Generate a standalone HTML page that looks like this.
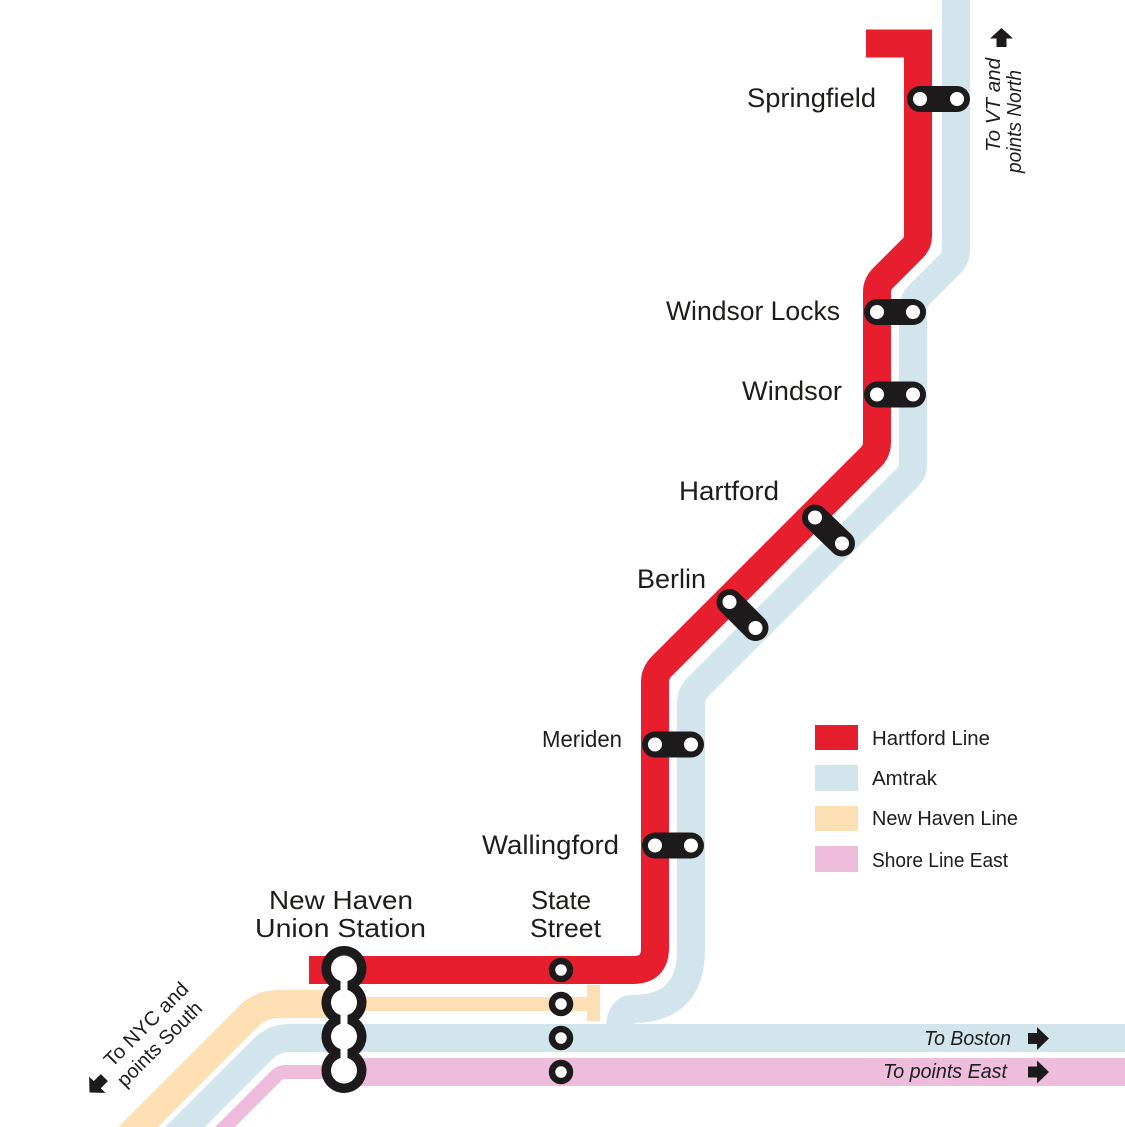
<!DOCTYPE html>
<html>
<head>
<meta charset="utf-8">
<style>
  html, body { margin: 0; padding: 0; background: #ffffff; }
  svg { display: block; }
  .lbl { font-family: "Liberation Sans", sans-serif; fill: #1d1d1b; }
  .it { font-family: "Liberation Sans", sans-serif; font-style: italic; fill: #1d1d1b; }
</style>
</head>
<body>
<svg width="1125" height="1127" viewBox="0 0 1125 1127" xmlns="http://www.w3.org/2000/svg">
  <rect x="0" y="0" width="1125" height="1127" fill="#ffffff"/>

  <!-- Amtrak (blue) -->
  <g fill="none" stroke="#d3e5ec" stroke-width="28" stroke-linecap="butt" stroke-linejoin="round">
    <path d="M 956 -5 V 250 Q 956 258 950 264 L 919 295 Q 913 301 913 310 V 464 Q 913 472 907 478 L 697 688 Q 691 694 691 703 V 950 Q 691 1009 632 1009 Q 620 1009 620 1030"/>
    <path d="M 1130 1038 H 290 Q 274 1038 263 1049 L 160 1152"/>
  </g>

  <!-- New Haven Line (orange) -->
  <g fill="none" stroke="#fddfb4" stroke-linecap="butt" stroke-linejoin="round">
    <path d="M 345 1004 H 279 Q 261 1004 249 1016 L 120 1145" stroke-width="28"/>
    <path d="M 340 1004 H 594" stroke-width="14"/>
  </g>
  <rect x="587" y="985" width="13" height="36" fill="#fddfb4"/>

  <!-- Shore Line East (pink) -->
  <g fill="none" stroke="#eebddb" stroke-linecap="butt" stroke-linejoin="round">
    <path d="M 345 1072 H 286 Q 280 1072 276 1076 L 215 1137" stroke-width="14"/>
    <path d="M 343 1072 H 1130" stroke-width="28"/>
  </g>

  <!-- Hartford Line (red) -->
  <path d="M 866 43.5 H 918 V 236 Q 918 243 913 248 L 883 278 Q 877 284 877 292 V 442 Q 877 451 871 457 L 662 666 Q 655 673 655 682 V 948 Q 655 970 633 970 H 309"
        fill="none" stroke="#e61e2e" stroke-width="28" stroke-linecap="butt" stroke-linejoin="miter"/>

  <!-- Pill stations -->
  <g stroke="#1c1a1b" stroke-width="26" stroke-linecap="round">
    <line x1="920" y1="99" x2="957" y2="99"/>
    <line x1="877" y1="312" x2="913" y2="312"/>
    <line x1="877" y1="394.5" x2="913" y2="394.5"/>
    <line x1="815" y1="517.5" x2="842" y2="543.5"/>
    <line x1="729.5" y1="602" x2="755.5" y2="628"/>
    <line x1="655" y1="744.5" x2="691" y2="744.5"/>
    <line x1="655" y1="845.5" x2="691" y2="845.5"/>
  </g>
  <g fill="#ffffff">
    <circle cx="920" cy="99" r="7"/><circle cx="957" cy="99" r="7"/>
    <circle cx="877" cy="312" r="7"/><circle cx="913" cy="312" r="7"/>
    <circle cx="877" cy="394.5" r="7"/><circle cx="913" cy="394.5" r="7"/>
    <circle cx="815" cy="517.5" r="7"/><circle cx="842" cy="543.5" r="7"/>
    <circle cx="729.5" cy="602" r="7"/><circle cx="755.5" cy="628" r="7"/>
    <circle cx="655" cy="744.5" r="7"/><circle cx="691" cy="744.5" r="7"/>
    <circle cx="655" cy="845.5" r="7"/><circle cx="691" cy="845.5" r="7"/>
  </g>

  <!-- New Haven Union Station -->
  <g fill="#1c1a1b">
    <circle cx="344" cy="968.5" r="22.5"/>
    <circle cx="344" cy="1002.5" r="22.5"/>
    <circle cx="344" cy="1036.5" r="22.5"/>
    <circle cx="344" cy="1070.5" r="22.5"/>
  </g>
  <g fill="#ffffff">
    <circle cx="344" cy="968.5" r="13"/>
    <circle cx="344" cy="1002.5" r="13"/>
    <circle cx="344" cy="1036.5" r="13"/>
    <circle cx="344" cy="1070.5" r="13"/>
    <rect x="340.5" y="968.5" width="7" height="102"/>
  </g>

  <!-- State Street -->
  <g fill="#ffffff" stroke="#1c1a1b" stroke-width="6.5">
    <circle cx="561" cy="970" r="9"/>
    <circle cx="561" cy="1004" r="9"/>
    <circle cx="561" cy="1038" r="9"/>
    <circle cx="561" cy="1072" r="9"/>
  </g>

  <!-- Station labels -->
  <g class="lbl" font-size="27">
    <text x="747" y="107" textLength="129" lengthAdjust="spacingAndGlyphs">Springfield</text>
    <text x="666" y="320" textLength="174" lengthAdjust="spacingAndGlyphs">Windsor Locks</text>
    <text x="742" y="400" textLength="100" lengthAdjust="spacingAndGlyphs">Windsor</text>
    <text x="679" y="500" textLength="100" lengthAdjust="spacingAndGlyphs">Hartford</text>
    <text x="637" y="588" textLength="69" lengthAdjust="spacingAndGlyphs">Berlin</text>
    <text x="482" y="854" textLength="137" lengthAdjust="spacingAndGlyphs">Wallingford</text>
  </g>
  <text class="lbl" font-size="23" x="542" y="747" textLength="80" lengthAdjust="spacingAndGlyphs">Meriden</text>
  <g class="lbl" font-size="26">
    <text x="269" y="909" textLength="144" lengthAdjust="spacingAndGlyphs">New Haven</text>
    <text x="255" y="937" textLength="171" lengthAdjust="spacingAndGlyphs">Union Station</text>
    <text x="531" y="909" textLength="60" lengthAdjust="spacingAndGlyphs">State</text>
    <text x="530" y="937" textLength="71" lengthAdjust="spacingAndGlyphs">Street</text>
  </g>

  <!-- Legend -->
  <rect x="815" y="725" width="43" height="25" fill="#e61e2e"/>
  <rect x="815" y="765" width="43" height="26" fill="#d3e5ec"/>
  <rect x="815" y="806" width="43" height="25" fill="#fddfb4"/>
  <rect x="815" y="846" width="43" height="26" fill="#eebddb"/>
  <g class="lbl" font-size="20.5">
    <text x="872" y="745" textLength="118" lengthAdjust="spacingAndGlyphs">Hartford Line</text>
    <text x="872" y="785" textLength="65" lengthAdjust="spacingAndGlyphs">Amtrak</text>
    <text x="872" y="825" textLength="146" lengthAdjust="spacingAndGlyphs">New Haven Line</text>
    <text x="872" y="867" textLength="136" lengthAdjust="spacingAndGlyphs">Shore Line East</text>
  </g>

  <!-- Direction labels -->
  <g class="it" font-size="20">
    <text x="924" y="1045" textLength="87" lengthAdjust="spacingAndGlyphs">To Boston</text>
    <text x="883" y="1078" textLength="124" lengthAdjust="spacingAndGlyphs">To points East</text>
    <text transform="translate(1000,152) rotate(-90)" textLength="94" lengthAdjust="spacingAndGlyphs">To VT and</text>
    <text transform="translate(1021,173) rotate(-90)" textLength="103" lengthAdjust="spacingAndGlyphs">points North</text>
  </g>
  <g class="lbl" font-size="20">
    <text transform="translate(112,1068) rotate(-45)" textLength="110" lengthAdjust="spacingAndGlyphs">To NYC and</text>
    <text transform="translate(125,1088) rotate(-45)" textLength="111" lengthAdjust="spacingAndGlyphs">points South</text>
  </g>

  <!-- Arrows -->
  <g fill="#1c1a1b">
    <polygon points="1028,1033 1037,1033 1037,1027 1049,1038.5 1037,1050 1037,1044 1028,1044"/>
    <polygon points="1028,1066.5 1037,1066.5 1037,1060.5 1049,1072 1037,1083.5 1037,1077.5 1028,1077.5"/>
    <polygon points="1001.5,28 1013,38.5 1006.5,38.5 1006.5,47 996.5,47 996.5,38.5 990,38.5"/>
    <polygon transform="translate(98,1084) rotate(135)" points="-9,-5 1,-5 1,-11.5 12,0 1,11.5 1,5 -9,5"/>
  </g>
</svg>
</body>
</html>
